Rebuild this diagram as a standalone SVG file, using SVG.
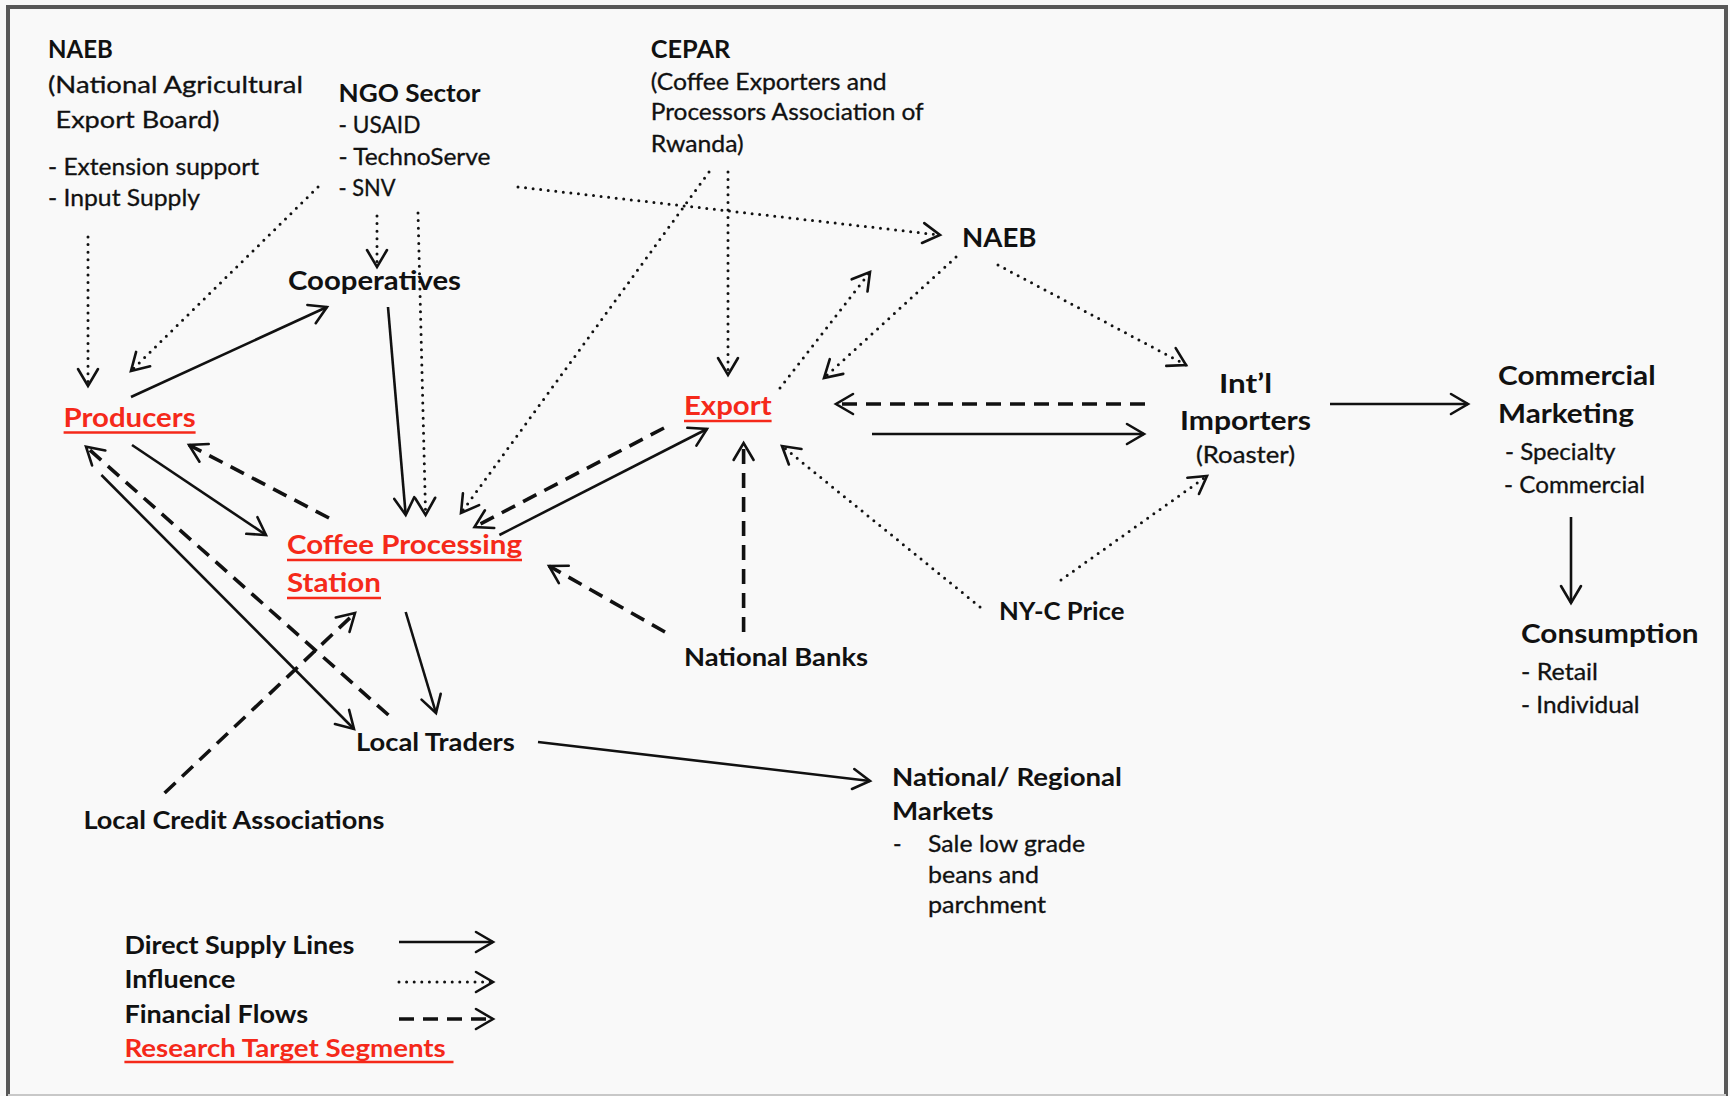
<svg xmlns="http://www.w3.org/2000/svg" width="1730" height="1096" viewBox="0 0 1730 1096">
<style>
text{font-family:Lato,"Open Sans","Liberation Sans",sans-serif;fill:#111;}
.b{font-weight:700;font-size:26px;}
.m{font-weight:700;font-size:24px;}
.r{font-weight:400;font-size:23px;stroke:#111;stroke-width:0.3;}
.red{fill:#f5291a;}
.ul{stroke:#f5291a;stroke-width:2.5;}
.sol{stroke:#111;stroke-width:2.6;fill:none;marker-end:url(#ah);}
.dot{stroke:#111;stroke-width:3;fill:none;stroke-dasharray:0 7.6;stroke-linecap:round;marker-end:url(#ah);}
.dsh{stroke:#111;stroke-width:3.6;fill:none;stroke-dasharray:15 9;marker-end:url(#ah);}
</style>
<defs>
<marker id="ah" markerUnits="userSpaceOnUse" viewBox="-20 -12 24 24" refX="0" refY="0" markerWidth="24" markerHeight="24" orient="auto" overflow="visible">
<path d="M -17 -10 L 0 0 L -17 10" fill="none" stroke="#111" stroke-width="2.6" stroke-dasharray="none" stroke-linecap="round" stroke-linejoin="miter"/>
</marker>
</defs>
<rect x="0" y="0" width="1730" height="1096" fill="#f9f9f9"/>
<rect x="8" y="7" width="1718" height="1110" fill="none" stroke="#585858" stroke-width="4"/>
<line x1="8" y1="1095" x2="1726" y2="1095" stroke="#c8c8c8" stroke-width="2"/>

<g id="connectors">
<line class="dot" x1="88" y1="237" x2="88" y2="386"/>
<line class="dot" x1="318" y1="187" x2="131" y2="371"/>
<line class="sol" x1="131" y1="397" x2="327" y2="307"/>
<line class="dot" x1="377" y1="216" x2="377" y2="267"/>
<line class="dot" x1="418" y1="213" x2="425.6" y2="515"/>
<line class="sol" x1="388" y1="307" x2="405.7" y2="515"/>
<line class="dot" x1="518" y1="187" x2="940" y2="235"/>
<line class="dot" x1="709" y1="172" x2="461" y2="513"/>
<line class="dot" x1="728" y1="172" x2="728" y2="375"/>
<line class="dot" x1="780" y1="388" x2="870" y2="272"/>
<line class="dot" x1="956" y1="257" x2="824" y2="378"/>
<line class="dot" x1="998" y1="265" x2="1186" y2="365"/>
<line class="dsh" x1="1145" y1="404" x2="836" y2="404"/>
<line class="sol" x1="872" y1="434" x2="1144" y2="434"/>
<line class="sol" x1="1330" y1="404" x2="1468" y2="404"/>
<line class="sol" x1="1571" y1="517" x2="1571" y2="603"/>
<line class="dot" x1="980" y1="607" x2="782" y2="446"/>
<line class="dot" x1="1061" y1="580" x2="1207" y2="476"/>
<line class="dsh" x1="743.6" y1="632" x2="743.6" y2="443"/>
<line class="dsh" x1="665" y1="632" x2="549" y2="566"/>
<line class="dsh" x1="664" y1="428" x2="474.5" y2="527"/>
<line class="sol" x1="499.4" y1="535" x2="707" y2="429"/>
<line class="sol" x1="132" y1="445" x2="266" y2="535"/>
<line class="dsh" x1="329" y1="518" x2="189" y2="445"/>
<line class="dsh" x1="388.4" y1="715" x2="86" y2="446.7"/>
<line class="sol" x1="101.4" y1="475" x2="354" y2="729"/>
<line class="dsh" x1="164.6" y1="793" x2="355" y2="613"/>
<line class="sol" x1="405.7" y1="612" x2="436" y2="713"/>
<line class="sol" x1="538" y1="742" x2="870" y2="781"/>
</g>

<g id="naeb-top">
<text class="m" x="48" y="58">NAEB</text>
<text class="r" x="48" y="93" textLength="255" lengthAdjust="spacingAndGlyphs">(National Agricultural</text>
<text class="r" x="55.5" y="128" textLength="164" lengthAdjust="spacingAndGlyphs">Export Board)</text>
<text class="r" x="48" y="175" textLength="211" lengthAdjust="spacingAndGlyphs">- Extension support</text>
<text class="r" x="48" y="206" textLength="152" lengthAdjust="spacingAndGlyphs">- Input Supply</text>
</g>
<g id="ngo">
<text class="m" x="338.5" y="102" textLength="142" lengthAdjust="spacingAndGlyphs">NGO Sector</text>
<text class="r" x="338.5" y="133" textLength="82" lengthAdjust="spacingAndGlyphs">- USAID</text>
<text class="r" x="338.5" y="165" textLength="152" lengthAdjust="spacingAndGlyphs">- TechnoServe</text>
<text class="r" x="338.5" y="196" textLength="57" lengthAdjust="spacingAndGlyphs">- SNV</text>
</g>
<g id="cooperatives">
<text class="b" x="288" y="290" textLength="173" lengthAdjust="spacingAndGlyphs">Cooperatives</text>
</g>
<g id="producers">
<text class="b red" x="63.6" y="427" textLength="132" lengthAdjust="spacingAndGlyphs">Producers</text>
<line class="ul" x1="63.6" y1="432.5" x2="195.6" y2="432.5"/>
</g>
<g id="cepar">
<text class="m" x="650.7" y="58" textLength="79.6" lengthAdjust="spacingAndGlyphs">CEPAR</text>
<text class="r" x="650.7" y="90" textLength="236" lengthAdjust="spacingAndGlyphs">(Coffee Exporters and</text>
<text class="r" x="650.7" y="120" textLength="273" lengthAdjust="spacingAndGlyphs">Processors Association of</text>
<text class="r" x="650.7" y="152" textLength="93" lengthAdjust="spacingAndGlyphs">Rwanda)</text>
</g>
<g id="naeb-right">
<text class="b" x="962" y="247" textLength="74.5" lengthAdjust="spacingAndGlyphs">NAEB</text>
</g>
<g id="export">
<text class="b red" x="684" y="415" textLength="87.6" lengthAdjust="spacingAndGlyphs">Export</text>
<line class="ul" x1="684" y1="421" x2="771.6" y2="421"/>
</g>
<g id="importers">
<text class="b" x="1219" y="393" textLength="53" lengthAdjust="spacingAndGlyphs">Int’l</text>
<text class="b" x="1180" y="430" textLength="131" lengthAdjust="spacingAndGlyphs">Importers</text>
<text class="r" x="1196" y="463" textLength="99" lengthAdjust="spacingAndGlyphs">(Roaster)</text>
</g>
<g id="commercial-marketing">
<text class="b" x="1498" y="385" textLength="157.6" lengthAdjust="spacingAndGlyphs">Commercial</text>
<text class="b" x="1498" y="423" textLength="136" lengthAdjust="spacingAndGlyphs">Marketing</text>
<text class="r" x="1505" y="460" textLength="110.5" lengthAdjust="spacingAndGlyphs">- Specialty</text>
<text class="r" x="1504" y="493" textLength="141" lengthAdjust="spacingAndGlyphs">- Commercial</text>
</g>
<g id="consumption">
<text class="b" x="1521" y="643" textLength="177.6" lengthAdjust="spacingAndGlyphs">Consumption</text>
<text class="r" x="1521" y="680" textLength="77" lengthAdjust="spacingAndGlyphs">- Retail</text>
<text class="r" x="1521" y="713" textLength="118.6" lengthAdjust="spacingAndGlyphs">- Individual</text>
</g>
<g id="coffee-processing-station">
<text class="b red" x="287" y="554" textLength="235" lengthAdjust="spacingAndGlyphs">Coffee Processing</text>
<line class="ul" x1="287" y1="560" x2="522" y2="560"/>
<text class="b red" x="287" y="592" textLength="94" lengthAdjust="spacingAndGlyphs">Station</text>
<line class="ul" x1="287" y1="598" x2="381" y2="598"/>
</g>
<g id="nyc-price">
<text class="m" x="999" y="620" textLength="125.5" lengthAdjust="spacingAndGlyphs">NY-C Price</text>
</g>
<g id="national-banks">
<text class="m" x="684" y="666" textLength="184" lengthAdjust="spacingAndGlyphs">National Banks</text>
</g>
<g id="local-traders">
<text class="m" x="356" y="751" textLength="158.7" lengthAdjust="spacingAndGlyphs">Local Traders</text>
</g>
<g id="local-credit">
<text class="m" x="83.4" y="829" textLength="301" lengthAdjust="spacingAndGlyphs">Local Credit Associations</text>
</g>
<g id="national-regional-markets">
<text class="m" x="892" y="786" textLength="230" lengthAdjust="spacingAndGlyphs">National/ Regional</text>
<text class="m" x="892" y="820" textLength="101.5" lengthAdjust="spacingAndGlyphs">Markets</text>
<text class="r" x="893" y="852">-</text>
<text class="r" x="928" y="852" textLength="157" lengthAdjust="spacingAndGlyphs">Sale low grade</text>
<text class="r" x="928" y="883" textLength="111" lengthAdjust="spacingAndGlyphs">beans and</text>
<text class="r" x="928" y="913" textLength="118" lengthAdjust="spacingAndGlyphs">parchment</text>
</g>
<g id="legend">
<text class="m" x="124.4" y="954" textLength="230" lengthAdjust="spacingAndGlyphs">Direct Supply Lines</text>
<text class="m" x="124.4" y="988" textLength="111" lengthAdjust="spacingAndGlyphs">Influence</text>
<text class="m" x="124.4" y="1023" textLength="183.7" lengthAdjust="spacingAndGlyphs">Financial Flows</text>
<text class="m red" x="124.4" y="1057" textLength="321.4" lengthAdjust="spacingAndGlyphs">Research Target Segments</text>
<line class="ul" x1="124.4" y1="1062" x2="453.5" y2="1062"/>
<line class="sol" x1="399" y1="942" x2="493" y2="942"/>
<line class="dot" x1="399" y1="982" x2="493" y2="982"/>
<line class="dsh" x1="399" y1="1019" x2="493" y2="1019"/>
</g>
</svg>
